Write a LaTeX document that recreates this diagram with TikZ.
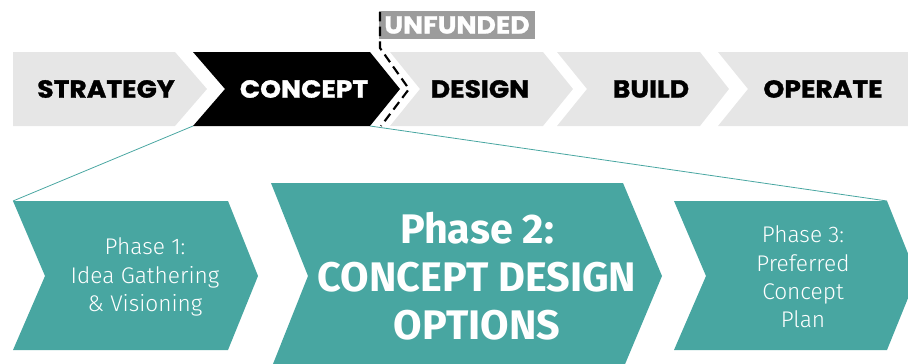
\documentclass[tikz,border=0pt]{standalone}
\usepackage{fontspec}
\newfontfamily\headfont{Poppins}[UprightFont=* Bold, FakeBold=1.2, FakeStretch=1.08]
\newfontfamily\phasebold{Fira Sans}[UprightFont=* Bold]
\newfontfamily\phaselight{Fira Sans}[UprightFont=* Light]
\definecolor{teal1}{HTML}{48A6A1}
\definecolor{lightgray1}{HTML}{E6E6E6}
\definecolor{midgray1}{HTML}{9C9C9C}
\tikzset{
  topchev/.style={fill=lightgray1, draw=none},
  activechev/.style={fill=black, draw=none},
  phasechev/.style={fill=teal1, draw=none},
  toplabel/.style={font=\headfont\fontsize{18.5}{20}\selectfont, text=black, inner sep=0pt},
  phaselabel/.style={font=\phaselight\fontsize{17}{21.2}\selectfont, text=white, align=center, inner sep=0pt},
  zoomline/.style={draw=teal1, line width=0.6pt},
  gatedash/.style={draw=black, line width=1.6pt, dash pattern=on 7pt off 4pt}
}
\begin{document}
\begin{tikzpicture}[x=0.75pt,y=-0.75pt]
\useasboundingbox (0,0) rectangle (908,364);
\clip (0,0) rectangle (908,364);
% top row chevrons
\path[topchev] (13,52) -- (175,52) -- (207,89) -- (175,126) -- (13,126) -- cycle;
\path[activechev] (193,52) -- (370,52) -- (400,89) -- (370,126) -- (193,126) -- (225,89) -- cycle;
\path[topchev] (390,52) -- (543,52) -- (573,89) -- (543,126) -- (390,126) -- (420,89) -- cycle;
\path[topchev] (557,52) -- (700,52) -- (729,89) -- (700,126) -- (557,126) -- (587,89) -- cycle;
\path[topchev] (718,52) -- (908,52) -- (908,126) -- (718,126) -- (748,89) -- cycle;
\node[toplabel] (strategy) at (106,89) {STRATEGY};
\node[toplabel, text=white] (concept) at (304,89) {CONCEPT};
\node[toplabel] (design) at (480,89) {DESIGN};
\node[toplabel] (build) at (651,89) {BUILD};
\node[toplabel] (operate) at (823,89) {OPERATE};
% unfunded label
\node[fill=midgray1, text=white, font=\headfont\fontsize{18.5}{20}\selectfont, minimum width=117pt, minimum height=21pt, inner sep=0pt] (unfunded) at (457,25) {UNFUNDED};
% gate dashed line
\coordinate (gtop) at (380,12);
\coordinate (gbend) at (380,48);
\coordinate (gtip) at (409,89);
\coordinate (gbot) at (381,126);
\draw[gatedash] (gtop) -- (gbend) -- (gtip) -- (gbot);
% bottom row chevrons
\path[phasechev] (13,201) -- (228,201) -- (258,276) -- (228,350) -- (13,350) -- (45,276) -- cycle;
\path[phasechev] (271,183) -- (623,183) -- (662,276) -- (623,369) -- (271,369) -- (308,276) -- cycle;
\path[phasechev] (674,201) -- (887,201) -- (917,276) -- (887,350) -- (674,350) -- (706,276) -- cycle;
% zoom lines
\coordinate (cbl) at (193,126);
\coordinate (cbr) at (370,126);
\coordinate (p1tl) at (13,201);
\coordinate (p3tr) at (887,201);
\draw[zoomline] (cbl) -- (p1tl);
\draw[zoomline] (cbr) -- (p3tr);
% phase texts
\node[phaselabel] (phase1) at (145,277) {Phase 1:\\Idea Gathering\\\&~Visioning};
\node[font=\phasebold\fontsize{31}{36}\selectfont, text=white, align=center, inner sep=0pt] (phase2) at (477,276) {Phase 2:\\CONCEPT DESIGN\\OPTIONS};
\node[phaselabel] (phase3) at (803,277) {Phase 3:\\Preferred\\Concept\\Plan};
\end{tikzpicture}
\end{document}
